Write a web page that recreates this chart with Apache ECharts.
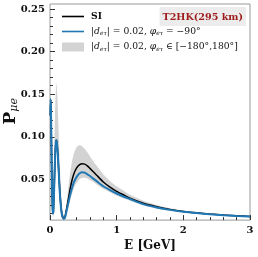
<!DOCTYPE html>
<html><head><meta charset="utf-8">
<script src="https://cdn.jsdelivr.net/npm/echarts@6/dist/echarts.min.js"></script>
<style>html,body{margin:0;padding:0;background:#fff}#c{width:258px;height:257px}</style>
</head><body><div id="c"></div>
<script>
const energy = [0.005,0.01,0.015,0.02,0.025,0.03,0.035,0.04,0.045,0.05,0.055,0.06,0.07,0.08,0.09,0.095,0.10,0.11,0.12,0.13,0.14,0.15,0.16,0.17,0.18,0.19,0.20,0.21,0.22,0.23,0.24,0.26,0.28,0.30,0.33,0.36,0.40,0.44,0.48,0.52,0.56,0.60,0.65,0.70,0.80,0.90,1.0,1.1,1.2,1.4,1.6,1.8,2.0,2.2,2.4,2.6,2.8,3.0];
const siProb = [0.125,0.144,0.13,0.10,0.07,0.045,0.025,0.014,0.010,0.012,0.020,0.032,0.060,0.083,0.095,0.096,0.095,0.088,0.076,0.061,0.046,0.032,0.022,0.014,0.009,0.0065,0.005,0.0045,0.005,0.0075,0.012,0.020,0.029,0.038,0.049,0.057,0.0635,0.067,0.0685,0.068,0.066,0.063,0.059,0.055,0.047,0.041,0.036,0.032,0.028,0.022,0.018,0.0148,0.0125,0.0108,0.0094,0.0083,0.0074,0.0066];
const nsiProb = [0.125,0.144,0.13,0.10,0.07,0.045,0.025,0.014,0.010,0.012,0.020,0.032,0.060,0.083,0.095,0.096,0.095,0.088,0.075,0.060,0.045,0.031,0.021,0.013,0.008,0.0055,0.0043,0.004,0.0045,0.0065,0.010,0.017,0.024,0.031,0.040,0.047,0.053,0.057,0.0585,0.058,0.056,0.054,0.051,0.048,0.042,0.0375,0.0335,0.030,0.027,0.021,0.0172,0.0143,0.0121,0.0105,0.0092,0.0081,0.0072,0.0064];
const bandLower = [0.11,0.13,0.115,0.085,0.055,0.032,0.016,0.008,0.005,0.006,0.012,0.022,0.045,0.068,0.082,0.085,0.084,0.078,0.064,0.049,0.035,0.022,0.013,0.007,0.004,0.003,0.0028,0.003,0.0035,0.005,0.008,0.013,0.019,0.025,0.033,0.040,0.046,0.050,0.052,0.052,0.051,0.049,0.047,0.044,0.039,0.035,0.031,0.028,0.025,0.0195,0.016,0.0135,0.0115,0.0100,0.0088,0.0078,0.0070,0.0062];
const bandUpper = [0.14,0.152,0.14,0.12,0.09,0.065,0.045,0.035,0.032,0.038,0.055,0.075,0.11,0.14,0.158,0.163,0.160,0.150,0.128,0.105,0.083,0.062,0.045,0.031,0.020,0.013,0.009,0.008,0.009,0.012,0.018,0.030,0.044,0.056,0.071,0.081,0.088,0.090,0.089,0.086,0.082,0.077,0.071,0.066,0.056,0.048,0.042,0.037,0.032,0.025,0.0200,0.0163,0.0136,0.0116,0.0100,0.0088,0.0078,0.0070];
const xMajorTicks = [0,1,2,3];
const xMinorTicks = [0.2,0.4,0.6,0.8,1.2,1.4,1.6,1.8,2.2,2.4,2.6,2.8];
const yMajorTicks = [0.05,0.10,0.15,0.20,0.25];
const yMinorTicks = [0.01,0.02,0.03,0.04,0.06,0.07,0.08,0.09,0.11,0.12,0.13,0.14,0.16,0.17,0.18,0.19,0.21,0.22,0.23,0.24];

const nameSI = 'SI';
const nameNSI = '|dετ| = 0.02, φετ = −90°';
const nameBand = '|dετ| = 0.02, φετ ∈ [−180°,180°]';
const richLabels = {};
richLabels[nameSI] = '{b|SI}';
richLabels[nameNSI] = '|{i|d}{s|eτ}| = 0.02, {i|φ}{s|eτ} = −90°';
richLabels[nameBand] = '|{i|d}{s|eτ}| = 0.02, {i|φ}{s|eτ} ∈ [−180°,180°]';

const SERIF = '"DejaVu Serif", "Liberation Serif", serif';
const chart = echarts.init(document.getElementById('c'), null, {renderer:'canvas'});
const pair = (ys) => energy.map((e,i)=>[e, ys[i]]);
const bandData = energy.map((e,i)=>[e, bandLower[i], bandUpper[i]]);
const LINE_ICON = 'path://M0,0H22V1.6H0Z';

chart.setOption({
  animation:false,
  grid:{left:50, top:4, right:8, bottom:35, show:true, borderColor:'#999', borderWidth:1},
  title:{text:'T2HK(295 km)', right:12, top:7, backgroundColor:'#ececec', padding:[5,3,4,3],
    textStyle:{fontFamily:SERIF, fontWeight:'bold', fontSize:9.6, color:'#9e1b1b'}},
  legend:{left:57, top:7, orient:'vertical', itemWidth:22, itemHeight:9, itemGap:6,
    data:[{name:nameSI, icon:LINE_ICON, itemStyle:{color:'#000'}},
          {name:nameNSI, icon:LINE_ICON, itemStyle:{color:'#1f77b4'}},
          {name:nameBand, icon:'rect', itemStyle:{color:'#d3d3d3'}}],
    formatter:(n)=>richLabels[n],
    textStyle:{fontFamily:SERIF, fontSize:9.2, color:'#111', padding:[0,0,0,2],
      rich:{b:{fontFamily:SERIF, fontSize:9.2, fontWeight:'bold'},
            i:{fontFamily:SERIF, fontSize:9.2, fontStyle:'italic'},
            s:{fontFamily:SERIF, fontSize:6, fontStyle:'italic', verticalAlign:'bottom', padding:[4,0,0,0]}}}},
  xAxis:[
    {type:'value', min:0, max:3, name:'E [GeV]', nameLocation:'middle', nameGap:19,
     nameTextStyle:{fontFamily:SERIF, fontWeight:'bold', fontSize:12, color:'#111'},
     axisLine:{show:false}, splitLine:{show:false},
     axisTick:{inside:true, length:5, customValues:xMajorTicks, lineStyle:{color:'#333'}},
     axisLabel:{customValues:xMajorTicks, fontFamily:SERIF, fontWeight:'bold', fontSize:10, color:'#111', margin:5}},
    {type:'value', min:0, max:3, position:'bottom', axisLine:{show:false}, splitLine:{show:false},
     axisTick:{inside:true, length:3, customValues:xMinorTicks, lineStyle:{color:'#333'}},
     axisLabel:{show:false}}
  ],
  yAxis:[
    {type:'value', min:0.0023, max:0.2558, splitLine:{show:false}, axisLine:{show:false},
     axisTick:{inside:true, length:5, customValues:yMajorTicks, lineStyle:{color:'#333'}},
     axisLabel:{customValues:yMajorTicks, formatter:(v)=>v.toFixed(2), fontFamily:SERIF, fontWeight:'bold', fontSize:10, color:'#111', margin:5}},
    {type:'value', min:0.0023, max:0.2558, position:'left', splitLine:{show:false}, axisLine:{show:false},
     axisTick:{inside:true, length:3, customValues:yMinorTicks, lineStyle:{color:'#333'}},
     axisLabel:{show:false}}
  ],
  graphic:[{type:'text', left:2, top:98, rotation:Math.PI/2,
    style:{text:'{p|P}{s|μe}', rich:{p:{fontFamily:SERIF, fontWeight:'bold', fontSize:17, fill:'#111'}, s:{fontFamily:SERIF, fontStyle:'italic', fontSize:11, fill:'#111', verticalAlign:'bottom', padding:[7,0,0,0]}}}}],
  series:[
    {name:nameBand, type:'custom', data:bandData, z:1, silent:true, itemStyle:{color:'#d3d3d3'},
     encode:{x:0, y:[1,2]},
     renderItem:function(params, api){
       if (params.dataIndex !== 0) return null;
       const up = bandData.map(d=>api.coord([d[0], d[2]]));
       const lo = bandData.map(d=>api.coord([d[0], d[1]])).reverse();
       return {type:'polygon', shape:{points:up.concat(lo), smooth:0.2}, style:{fill:'#d3d3d3'},
         clipPath:{type:'rect', shape:{x:params.coordSys.x, y:params.coordSys.y, width:params.coordSys.width, height:params.coordSys.height}}};
     }},
    {name:nameSI, type:'line', data:pair(siProb), symbol:'none', smooth:0.2, lineStyle:{color:'#000', width:1.5}, itemStyle:{color:'#000'}, z:2},
    {name:nameNSI, type:'line', data:pair(nsiProb), symbol:'none', smooth:0.2, lineStyle:{color:'#1f77b4', width:2}, itemStyle:{color:'#1f77b4'}, z:3}
  ]
});
</script></body></html>
